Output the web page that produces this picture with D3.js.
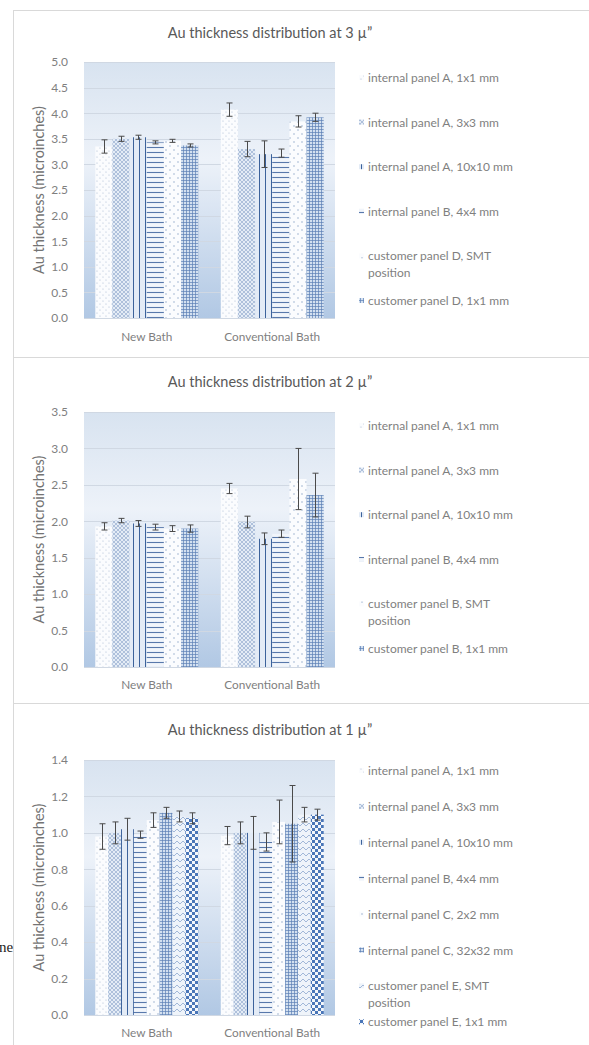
<!DOCTYPE html>
<html><head><meta charset="utf-8">
<script src="https://cdn.jsdelivr.net/npm/d3@7"></script>
<style>body{margin:0;background:#fff}svg{display:block}</style>
</head><body>
<svg id="c" width="589" height="1045"></svg>
<script>
// ---------- DATA ----------
const categories = ["New Bath", "Conventional Bath"];
const titles = ["Au thickness distribution at 3 \u00b5\u201d", "Au thickness distribution at 2 \u00b5\u201d", "Au thickness distribution at 1 \u00b5\u201d"];
const yTitle = "Au thickness (microinches)";

const series3 = ["internal panel A, 1x1 mm", "internal panel A, 3x3 mm", "internal panel A, 10x10 mm", "internal panel B, 4x4 mm", "customer panel D, SMT position", "customer panel D, 1x1 mm"];
const mean3New  = [3.35, 3.50, 3.53, 3.43, 3.46, 3.37];
const mean3Conv = [4.07, 3.30, 3.20, 3.22, 3.84, 3.92];
const err3New   = [0.13, 0.05, 0.04, 0.03, 0.03, 0.03];
const err3Conv  = [0.13, 0.15, 0.26, 0.08, 0.11, 0.08];
const ticks3 = [0, 0.5, 1.0, 1.5, 2.0, 2.5, 3.0, 3.5, 4.0, 4.5, 5.0];

const series2 = ["internal panel A, 1x1 mm", "internal panel A, 3x3 mm", "internal panel A, 10x10 mm", "internal panel B, 4x4 mm", "customer panel B, SMT position", "customer panel B, 1x1 mm"];
const mean2New  = [1.93, 2.01, 1.97, 1.92, 1.90, 1.90];
const mean2Conv = [2.45, 1.99, 1.76, 1.83, 2.58, 2.36];
const err2New   = [0.05, 0.03, 0.04, 0.04, 0.04, 0.05];
const err2Conv  = [0.07, 0.08, 0.08, 0.05, 0.42, 0.30];
const ticks2 = [0, 0.5, 1.0, 1.5, 2.0, 2.5, 3.0, 3.5];

const series1 = ["internal panel A, 1x1 mm", "internal panel A, 3x3 mm", "internal panel A, 10x10 mm", "internal panel B, 4x4 mm", "internal panel C, 2x2 mm", "internal panel C, 32x32 mm", "customer panel E, SMT position", "customer panel E, 1x1 mm"];
const mean1New  = [0.98, 1.00, 1.02, 0.99, 1.07, 1.11, 1.09, 1.08];
const mean1Conv = [0.985, 1.00, 1.00, 0.95, 1.06, 1.05, 1.10, 1.10];
const err1New   = [0.07, 0.06, 0.06, 0.02, 0.04, 0.03, 0.03, 0.03];
const err1Conv  = [0.05, 0.06, 0.09, 0.05, 0.12, 0.21, 0.04, 0.03];
const ticks1 = [0, 0.2, 0.4, 0.6, 0.8, 1.0, 1.2, 1.4];

// ---------- DRAW ----------
const svg = d3.select("#c");
const defs = svg.append("defs");
const font = "Lato, 'Open Sans', sans-serif";

// gradient for plot area
const g = defs.append("linearGradient").attr("id", "bg").attr("x1", 0).attr("y1", 0).attr("x2", 0).attr("y2", 1);
[["0%", "#d8e3f0"], ["38%", "#edf2f9"], ["100%", "#b1c8e4"]].forEach(([o, c]) => g.append("stop").attr("offset", o).attr("stop-color", c));

function pat(id, w, h, build) {
  const p = defs.append("pattern").attr("id", id).attr("patternUnits", "userSpaceOnUse").attr("width", w).attr("height", h);
  build(p);
}
pat("dots", 6, 6, p => {
  p.append("rect").attr("width", 6).attr("height", 6).attr("fill", "#fbfcfe");
  p.append("circle").attr("cx", 1).attr("cy", 1).attr("r", 0.6).attr("fill", "#a9bbd2");
  p.append("circle").attr("cx", 4).attr("cy", 4).attr("r", 0.6).attr("fill", "#a9bbd2");
});
pat("cross", 4, 4, p => {
  p.append("rect").attr("width", 4).attr("height", 4).attr("fill", "#e4ecf6");
  p.append("path").attr("d", "M0,0L4,4M4,0L0,4").attr("stroke", "#96aed0").attr("stroke-width", 0.7);
});
pat("vlines", 6, 6, p => {
  p.append("rect").attr("width", 6).attr("height", 6).attr("fill", "#e3ebf6");
  p.append("line").attr("x1", 1.5).attr("x2", 1.5).attr("y1", 0).attr("y2", 6).attr("stroke", "#3c629b").attr("stroke-width", 1);
});
pat("hlines", 6, 5, p => {
  p.append("rect").attr("width", 6).attr("height", 5).attr("fill", "#f1f5fb");
  p.append("line").attr("x1", 0).attr("x2", 6).attr("y1", 2.5).attr("y2", 2.5).attr("stroke", "#5878ab").attr("stroke-width", 1.1);
});
pat("zig", 8, 8, p => {
  p.append("rect").attr("width", 8).attr("height", 8).attr("fill", "#fbfcfe");
  p.append("circle").attr("cx", 2).attr("cy", 2).attr("r", 1).attr("fill", "#c3d0e2");
  p.append("circle").attr("cx", 6).attr("cy", 6).attr("r", 1).attr("fill", "#c3d0e2");
});
pat("grid", 3, 3, p => {
  p.append("rect").attr("width", 3).attr("height", 3).attr("fill", "#d3e0f0");
  p.append("path").attr("d", "M0,0.5H3M0.5,0V3").attr("stroke", "#5b80b6").attr("stroke-width", 0.7);
});
pat("wave", 6, 6, p => {
  p.append("rect").attr("width", 6).attr("height", 6).attr("fill", "#eff4fa");
  p.append("path").attr("d", "M0,4L3,1L6,4").attr("fill", "none").attr("stroke", "#8ea8cf").attr("stroke-width", 0.8);
});
pat("checker", 6, 6, p => {
  p.append("rect").attr("width", 6).attr("height", 6).attr("fill", "#f4f7fb");
  p.append("rect").attr("width", 3).attr("height", 3).attr("fill", "#4a76b8");
  p.append("rect").attr("x", 3).attr("y", 3).attr("width", 3).attr("height", 3).attr("fill", "#4a76b8");
});

const panels = [
  {title: titles[0], series: series3, nw: mean3New, cv: mean3Conv, en: err3New, ec: err3Conv, ticks: ticks3,
   top: 10, titleY: 38, y0: 318, y1: 62, catY: 341, legY: 82, legStep: 44.6,
   pats: ["dots", "cross", "vlines", "hlines", "zig", "grid"]},
  {title: titles[1], series: series2, nw: mean2New, cv: mean2Conv, en: err2New, ec: err2Conv, ticks: ticks2,
   top: 357, titleY: 387, y0: 667, y1: 412, catY: 689, legY: 430, legStep: 44.6,
   pats: ["dots", "cross", "vlines", "hlines", "zig", "grid"]},
  {title: titles[2], series: series1, nw: mean1New, cv: mean1Conv, en: err1New, ec: err1Conv, ticks: ticks1,
   top: 703, titleY: 735, y0: 1015, y1: 760, catY: 1037, legY: 775, legStep: 35.9,
   pats: ["dots", "cross", "vlines", "hlines", "zig", "grid", "wave", "checker"]}
];

const X0 = 84, X1 = 335;
const gray = "#7f7f7f";

panels.forEach(P => {
  const G = svg.append("g");
  G.append("rect").attr("x", 13.5).attr("y", P.top + 0.5).attr("width", 600).attr("height", 1000)
    .attr("fill", "#fff").attr("stroke", "#d9d9d9");
  G.append("text").attr("x", 270).attr("y", P.titleY).attr("text-anchor", "middle")
    .attr("font-family", font).attr("font-size", 14.5).attr("fill", "#595959").text(P.title);

  const yMax = P.ticks[P.ticks.length - 1];
  const y = d3.scaleLinear().domain([0, yMax]).range([P.y0, P.y1]);
  const x0 = d3.scaleBand().domain(categories).range([X0, X1]).paddingInner(0.18).paddingOuter(0.09);
  const x1 = d3.scaleBand().domain(d3.range(P.series.length)).range([0, x0.bandwidth()]);

  G.append("rect").attr("x", X0).attr("y", P.y1).attr("width", X1 - X0).attr("height", P.y0 - P.y1).attr("fill", "url(#bg)");
  G.append("g").selectAll("line").data(P.ticks).join("line")
    .attr("x1", X0).attr("x2", X1).attr("y1", d => Math.round(y(d)) + 0.5).attr("y2", d => Math.round(y(d)) + 0.5)
    .attr("stroke", "#d0d8e3").attr("stroke-width", 1);

  const ya = G.append("g").attr("transform", `translate(${X0 - 13},0)`)
    .call(d3.axisLeft(y).tickValues(P.ticks).tickFormat(d3.format(".1f")).tickSize(0));
  ya.select(".domain").remove();
  ya.selectAll("text").attr("font-family", font).attr("font-size", 12).attr("fill", gray);

  const xa = G.append("g").attr("transform", `translate(0,${P.catY - 11})`)
    .call(d3.axisBottom(x0).tickSize(0));
  xa.select(".domain").remove();
  xa.selectAll("text").attr("font-family", font).attr("font-size", 11.8).attr("fill", gray);

  G.append("text").attr("transform", `translate(44,${(P.y0 + P.y1) / 2}) rotate(-90)`).attr("text-anchor", "middle")
    .attr("font-family", font).attr("font-size", 14.5).attr("fill", "#737373").text(yTitle);

  const rows = [];
  categories.forEach((c, ci) => P.series.forEach((s, si) => {
    rows.push({c, si, v: ci === 0 ? P.nw[si] : P.cv[si], e: ci === 0 ? P.en[si] : P.ec[si]});
  }));
  G.append("g").selectAll("rect").data(rows).join("rect")
    .attr("x", d => x0(d.c) + x1(d.si)).attr("width", x1.bandwidth())
    .attr("y", d => y(d.v)).attr("height", d => y(0) - y(d.v))
    .attr("fill", d => `url(#${P.pats[d.si]})`);

  const eb = G.append("g").attr("stroke", "#4a4a4a").attr("stroke-width", 1).attr("fill", "none");
  rows.forEach(d => {
    const cx = Math.round(x0(d.c) + x1(d.si) + x1.bandwidth() / 2) + 0.5;
    const t = y(d.v + d.e), b = y(d.v - d.e);
    eb.append("line").attr("x1", cx).attr("x2", cx).attr("y1", t).attr("y2", b);
    eb.append("line").attr("x1", cx - 3).attr("x2", cx + 3).attr("y1", t).attr("y2", t);
    eb.append("line").attr("x1", cx - 3).attr("x2", cx + 3).attr("y1", b).attr("y2", b);
  });

  const L = G.append("g");
  P.series.forEach((s, i) => {
    const ly = P.legY + i * P.legStep;
    L.append("rect").attr("x", 359).attr("y", ly - 7).attr("width", 5).attr("height", 5)
      .attr("fill", `url(#${P.pats[i]})`);
    const m = s.match(/^(.*), SMT position$/);
    const t = L.append("text").attr("x", 368).attr("y", ly).attr("font-family", font).attr("font-size", 12).attr("fill", gray);
    if (m) {
      t.text(m[1] + ", SMT");
      L.append("text").attr("x", 368).attr("y", ly + 17).attr("font-family", font).attr("font-size", 12).attr("fill", gray).text("position");
    } else t.text(s);
  });
});

svg.append("text").attr("x", -1).attr("y", 952).attr("font-family", "'Liberation Serif', serif").attr("font-size", 15)
  .attr("font-weight", "normal").attr("fill", "#222").text("ne");
</script>
</body></html>
